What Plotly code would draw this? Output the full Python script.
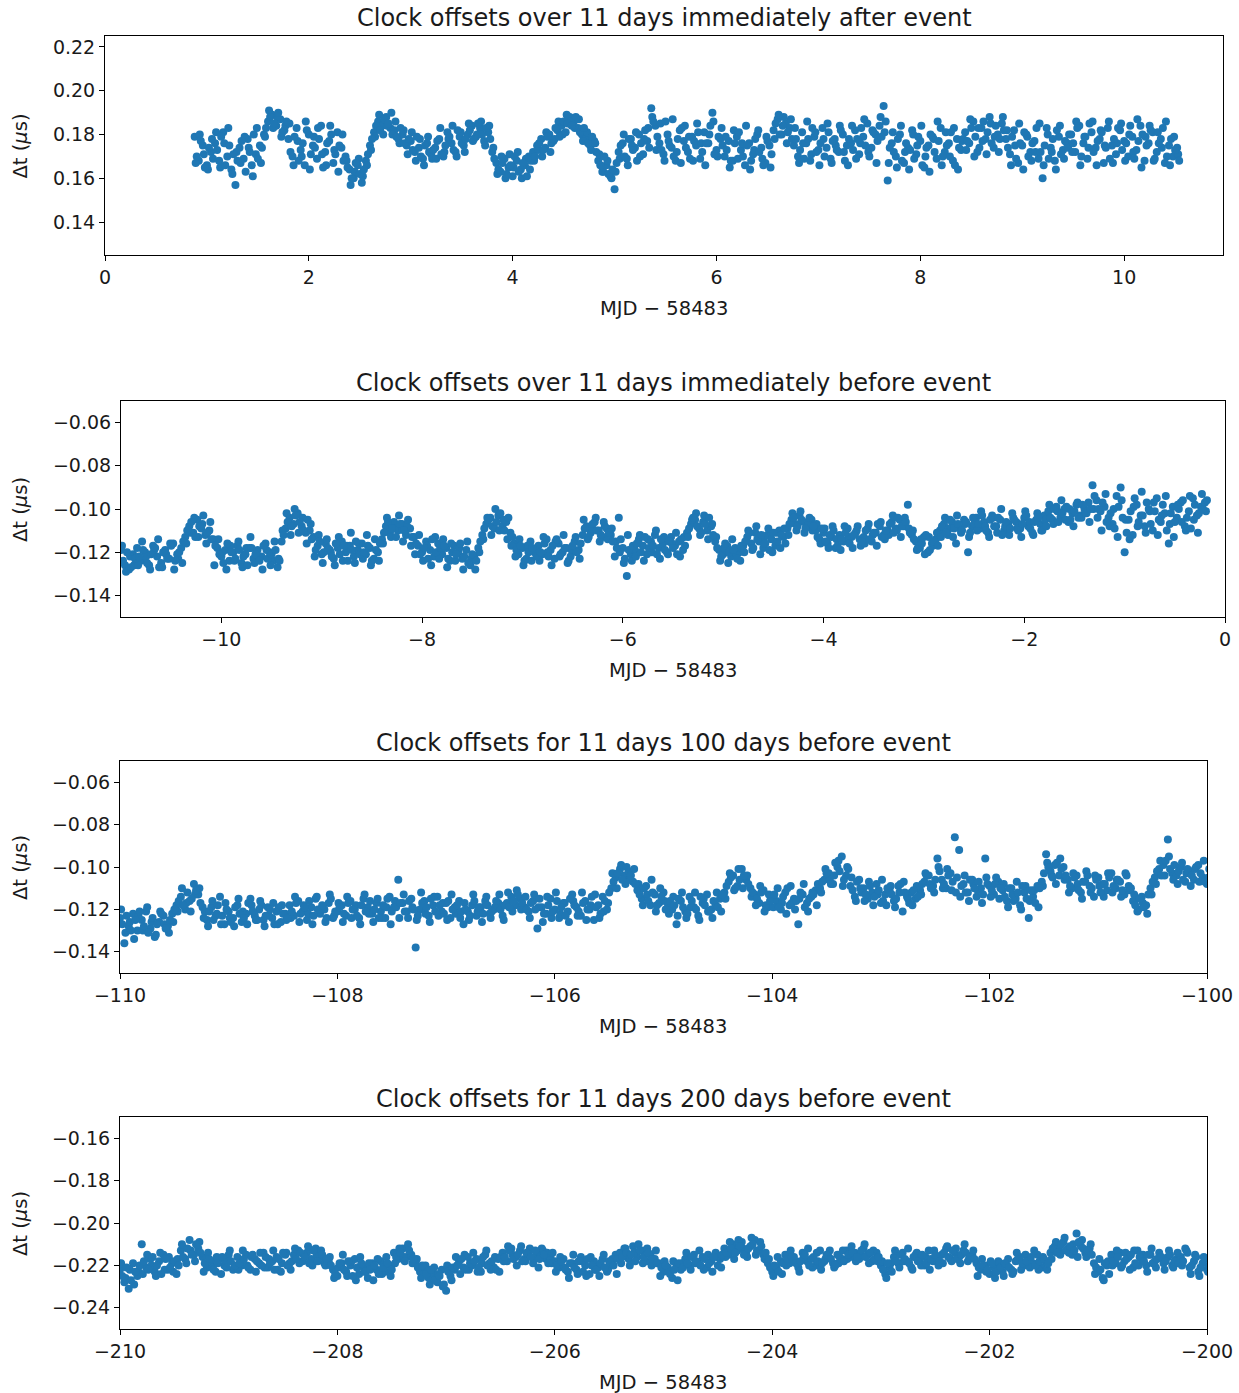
import plotly.graph_objects as go

# ---------------- data (Δt in ns; converted to μs when plotted) ----------------
# Each panel: three sets of readings on a sampling grid with step dt:
#   *_ns      at t0 + k*dt
#   *_ns_q    at t0 + dt/4 + k*dt
#   *_ns_mid  at t0 + dt/2 + k*dt

# Panel 1: 11 days immediately after event
after_t0, after_dt = 0.88, 0.04
after_ns = [
    179, 168, 175, 166, 172,
    176, 168, 181, 170, 164, 157, 174, 169, 178, 166, 171, 175,
    180, 186, 189, 184, 187, 182,
    178, 170, 183, 173, 166, 180, 175, 169, 184, 172, 177, 167, 181, 174,
    170, 164, 160, 166, 158,
    168, 175, 181, 186, 184, 188, 183,
    182, 178, 180, 175, 177, 172, 174, 169, 176, 171,
    174, 178, 170, 181, 176, 172, 179, 175,
    180, 184, 179, 183, 177, 181,
    172, 167, 163, 169, 165, 161, 168, 164, 166, 170,
    172, 175, 178, 174, 180, 177, 182, 184, 181, 188,
    186, 183, 180, 178, 175, 177,
    168, 163, 166, 161,
    155,
    172, 176, 169, 178, 174, 180, 171, 177,
    192,
    184, 176, 171, 180, 174, 168, 182, 177, 172, 179, 175, 169, 181, 176, 190, 173, 178,
    170, 177, 168, 179, 173, 166, 176, 171, 180, 174, 167, 175,
    182, 187, 180, 185, 183,
    175, 170, 181, 176, 168, 179, 173, 183, 174, 169, 178, 172, 180, 175,
    176, 182, 171, 179, 185, 174, 180,
    184, 193,
    159,
    176, 170, 180, 167, 174, 182, 171, 177, 165, 175, 179, 169, 183, 172, 176, 168, 178, 173,
    181, 176, 186, 172, 183, 178, 188, 174, 180, 185,
    178, 171, 182, 167, 175, 180, 172, 177, 169, 160, 183, 174, 168, 179, 173, 176,
    180, 172, 184, 176, 169, 181, 174, 178, 167, 183, 175, 171, 182, 177, 170, 179, 173,
    184, 168, 176, 181, 172, 178, 167, 175, 170, 174,
]
after_ns_q = [
    167, 180, 171, 164, 178,
    181, 165, 176, 183, 162, 172, 167, 179, 174, 161, 183, 167,
    179, 191, 183, 188, 179, 184,
    185, 166, 177, 170, 186, 164, 179, 183, 171, 166, 184, 173, 163, 180,
    168, 157, 163, 169, 161,
    166, 173, 179, 189, 180, 184, 190,
    186, 176, 182, 171, 181, 168, 178, 166, 179, 169,
    169, 183, 172, 178, 184, 170, 181, 172,
    185, 177, 180, 186, 175, 184,
    174, 162, 170, 160, 171, 165, 172, 160, 169, 164,
    168, 173, 170, 181, 172, 178, 186, 180, 189, 186,
    183, 187, 177, 181, 173, 176,
    171, 163, 168, 160,
    163,
    169, 180, 166, 175, 181, 170, 178, 183,
    188,
    173, 185, 168, 177, 187, 172, 167, 184, 179, 168, 185, 176, 166, 180, 186, 170, 183,
    179, 165, 182, 169, 176, 184, 164, 173, 182, 169, 179, 165,
    178, 189, 184, 176, 187,
    183, 167, 176, 186, 171, 181, 166, 178, 185, 167, 175, 184, 172, 166,
    184, 169, 176, 187, 172, 182, 167,
    188, 181,
    167,
    181, 165, 184, 172, 164, 180, 175, 184, 170, 163, 178, 186, 166, 181, 170, 183, 164, 177,
    173, 187, 170, 183, 177, 171, 185, 179, 172, 188,
    182, 166, 175, 185, 164, 179, 168, 172, 185, 166, 180, 172, 164, 184, 169, 174,
    172, 186, 166, 179, 174, 186, 166, 182, 175, 186, 167, 176, 185, 168, 180, 172, 187,
    165, 179, 184, 168, 181, 174, 186, 166, 179, 171,
]
after_ns_mid = [
    170, 177, 165, 174, 169,
    173, 179, 166, 175, 171, 168, 177, 163, 172, 180, 169, 174,
    183, 188, 185, 190, 181, 186,
    172, 179, 168, 176, 182, 171, 174, 178, 165, 176, 180, 171, 175, 168,
    165, 160, 167, 162, 164,
    171, 178, 184, 182, 187, 185, 180,
    179, 183, 176, 178, 173, 179, 170, 175, 172, 173,
    177, 171, 175, 179, 173, 182, 176, 178,
    182, 178, 185, 180, 183, 178,
    169, 164, 167, 162, 166, 170, 163, 167, 161, 168,
    170, 176, 173, 179, 176, 183, 179, 186, 185, 184,
    188, 181, 183, 176, 179, 172,
    166, 170, 162, 164,
    167,
    175, 170, 178, 173, 168, 176, 182, 174,
    186,
    179, 173, 186, 175, 170, 178, 183, 174, 169, 177, 181, 172, 176, 184, 171, 179, 175,
    173, 168, 176, 181, 170, 175, 168, 178, 172, 166, 177, 171,
    185, 180, 188, 181, 178,
    178, 173, 169, 178, 183, 172, 176, 170, 181, 177, 173, 182, 168, 178,
    173, 178, 183, 175, 170, 181, 177,
    179, 186,
    174,
    172, 178, 168, 176, 173, 169, 179, 166, 174, 180, 172, 177, 170, 175, 181, 166, 174, 178,
    177, 183, 179, 174, 186, 181, 176, 184, 178, 182,
    174, 179, 169, 176, 181, 170, 176, 183, 172, 175, 169, 178, 182, 171, 177, 180,
    176, 183, 170, 179, 185, 172, 177, 181, 174, 169, 178, 183, 173, 176, 184, 169, 177,
    180, 175, 182, 169, 176, 183, 170, 178, 173, 168,
]

# Panel 2: 11 days immediately before event
before_t0, before_dt = -11.0, 0.04
before_ns = [
    -119, -126, -128, -121,
    -118, -124, -120, -126, -117, -122, -125, -119, -123, -116, -121, -118,
    -113, -108, -111, -105, -109, -112, -110,
    -114, -118, -122, -119, -124, -120, -117, -125, -121, -118, -123, -119, -122, -116, -120, -124, -127,
    -115, -109, -104, -107, -102, -108, -111, -110,
    -113, -117, -121, -116, -119, -123, -118, -115, -120, -117, -122, -119, -116, -121, -118, -123, -120,
    -114, -108, -111, -106, -110, -107, -112, -109,
    -113, -117, -120, -115, -119, -122, -116, -121, -118, -124, -117, -120, -123, -119, -126, -122,
    -118, -112, -107, -104, -109, -103, -108, -106, -111,
    -116, -121, -118, -123, -115, -120,
    -117, -121, -114, -119, -123, -116, -120, -118, -122, -115, -119,
    -112, -108, -111, -106, -110, -113, -109, -112,
    -122, -104, -118, -131, -121,
    -119, -114, -117, -121, -115, -112, -118, -116, -120, -113, -117, -115, -119,
    -111, -107, -105, -109, -106, -110, -108,
    -115, -119, -121, -117, -122, -118, -120,
    -117, -113, -116, -111, -115, -118, -112, -114, -117, -110, -113,
    -109, -105, -107, -103, -106, -108, -105,
    -110, -114, -111, -116, -113, -118, -112, -115, -109, -113, -111, -114,
    -113, -109, -115, -111, -108, -112,
    -110, -106, -109, -105, -108, -98,
    -112, -115, -118, -113, -120, -116, -114,
    -110, -107, -112, -106, -116, -109, -105,
    -120, -108,
    -104, -109, -106, -111, -103, -108, -105, -110, -107, -102, -106, -109, -104, -108, -111, -105, -107, -103,
    -101, -105, -99, -104, -100, -106, -102, -98, -103, -100, -97,
    -89,
    -96, -101, -99, -104, -107, -94, -90, -120, -105, -112, -98, -103, -108, -100,
    -110, -95, -106, -102, -116, -99, -104, -97, -108, -101, -95, -103, -99, -97,
]
before_ns_q = [
    -117, -129, -122, -126,
    -126, -115, -122, -128, -119, -114, -127, -121, -116, -128, -123, -125,
    -116, -111, -104, -113, -107, -116, -106,
    -126, -114, -120, -128, -117, -124, -115, -127, -118, -113, -125, -122, -128, -119, -126, -115, -123,
    -110, -102, -112, -100, -111, -104, -116, -107,
    -122, -112, -125, -114, -120, -126, -113, -124, -117, -111, -125, -116, -123, -112, -126, -114, -124,
    -116, -104, -113, -109, -103, -115, -108, -117,
    -121, -112, -124, -117, -126, -113, -123, -114, -127, -116, -124, -118, -128, -115, -123, -128,
    -120, -114, -104, -112, -100, -110, -105, -114, -117,
    -122, -114, -126, -117, -124, -119,
    -124, -113, -120, -126, -115, -122, -112, -125, -119, -113, -123,
    -105, -114, -109, -104, -115, -106, -114, -109,
    -115, -120, -125, -112, -124,
    -122, -112, -124, -114, -120, -110, -123, -113, -121, -116, -111, -122, -113,
    -113, -105, -102, -112, -103, -114, -107,
    -113, -124, -118, -125, -114, -121, -124,
    -120, -110, -119, -108, -121, -113, -109, -120, -111, -118, -109,
    -112, -102, -110, -101, -111, -106, -110,
    -107, -116, -109, -118, -108, -114, -119, -108, -113, -118, -110, -117,
    -116, -107, -112, -117, -106, -114,
    -112, -103, -110, -113, -104, -109,
    -110, -119, -114, -121, -113, -117, -111,
    -113, -104, -109, -113, -103, -111, -107,
    -113, -104,
    -110, -101, -108, -113, -104, -111, -100, -108, -112, -104, -109, -113, -101, -106, -112, -102, -110, -105,
    -98, -107, -101, -96, -105, -100, -108, -97, -104, -101, -106,
    -100,
    -104, -110, -93, -108, -100, -113, -96, -105, -114, -99, -108, -92, -111, -101,
    -97, -112, -103, -94, -107, -113, -98, -106, -110, -94, -105, -111, -93, -101,
]
before_ns_mid = [
    -124, -120, -127, -123,
    -122, -119, -125, -121, -118, -127, -120, -123, -117, -124, -120, -115,
    -110, -106, -113, -108, -103, -111, -114,
    -117, -121, -125, -116, -120, -123, -119, -122, -126, -118, -121, -124, -117, -123, -121, -119, -124,
    -112, -106, -108, -103, -106, -110, -105, -114,
    -119, -115, -120, -118, -122, -116, -121, -117, -124, -119, -115, -121, -120, -117, -124, -119, -116,
    -111, -106, -109, -113, -107, -110, -105, -113,
    -116, -121, -118, -123, -114, -120, -118, -117, -123, -120, -121, -116, -122, -125, -121, -124,
    -115, -109, -105, -108, -106, -102, -110, -104, -113,
    -119, -117, -124, -120, -118, -122,
    -120, -116, -122, -117, -114, -121, -118, -124, -117, -120, -116,
    -109, -113, -107, -110, -112, -108, -111, -115,
    -118, -114, -123, -119, -117,
    -116, -120, -113, -118, -117, -121, -114, -119, -115, -118, -121, -114, -117,
    -109, -104, -108, -111, -107, -104, -112,
    -118, -122, -116, -120, -119, -123, -117,
    -115, -111, -118, -114, -112, -116, -119, -111, -115, -112, -116,
    -107, -104, -108, -105, -109, -104, -108,
    -113, -109, -115, -112, -110, -117, -114, -111, -116, -112, -108, -115,
    -110, -114, -111, -107, -113, -110,
    -107, -111, -104, -108, -106, -111,
    -114, -118, -116, -112, -119, -115, -117,
    -108, -111, -105, -109, -107, -110, -106,
    -111, -107,
    -107, -103, -110, -105, -108, -104, -112, -106, -109, -105, -110, -107, -103, -109, -106, -104, -110, -108,
    -104, -100, -106, -102, -99, -105, -101, -104, -98, -102, -100,
    -94,
    -100, -97, -106, -102, -109, -99, -104, -111, -101, -95, -106, -103, -97, -107,
    -101, -105, -98, -110, -102, -106, -100, -96, -104, -109, -98, -102, -100, -96,
]

# Panel 3: 11 days, 100 days before event
d100_t0, d100_dt = -110.0, 0.04
d100_ns = [
    -124, -136, -128, -122, -130, -125, -121, -129, -133, -126, -123, -128,
    -122, -118, -114, -120, -116, -108, -113, -119,
    -125, -119, -123, -114, -127, -121, -124, -118, -126, -122, -115, -123, -120, -125, -119, -124, -121, -126, -122,
    -118, -123, -116, -121, -125, -119, -115, -122, -120, -117, -124, -121, -118, -123, -116, -120, -124, -115,
    -119, -122, -117, -121, -124, -114, -119,
    -106,
    -117, -121, -115, -138, -120, -116, -123, -118, -114, -121, -117, -124, -119, -116,
    -127, -121, -118, -123, -119, -116, -122, -120, -117, -123,
    -117, -114, -118, -115, -119,
    -121, -116, -129, -119, -122, -115, -120, -124, -117, -121, -113, -119, -123, -116, -120, -125, -118, -114, -120,
    -110, -105, -101, -104, -102, -107,
    -111, -115, -109, -118, -113, -117, -112, -119,
    -120, -127, -116, -121, -114, -119, -123, -117, -113, -120, -118, -115,
    -112, -107, -104, -109, -101, -106, -110,
    -113, -117, -111, -119, -114, -116, -120, -112, -118, -115, -127, -113, -117, -114, -111,
    -110, -106, -103, -108, -100, -95, -104,
    -109, -114, -106,
    -110, -115, -112, -108, -117, -113, -111, -116, -109, -121, -114, -112, -115,
    -111, -107, -104, -109, -96, -106, -110, -103,
    -86,
    -92, -108, -112, -106, -114, -110, -96, -109, -113, -107,
    -111, -116, -110, -115, -118, -112, -124, -114, -109,
    -107, -94, -102, -99, -104, -100,
    -106, -110, -104, -112, -107, -109, -114, -105, -108, -111, -103, -110, -107, -113, -109,
    -116, -121, -114, -118,
    -110, -105, -101, -99, -87, -103,
    -104, -100, -107, -102, -106, -99, -105, -108,
]
d100_ns_q = [
    -120, -131, -126, -134, -123, -130, -119, -126, -132, -121, -127, -131,
    -126, -121, -110, -117, -121, -113, -110, -124,
    -128, -116, -122, -127, -117, -124, -128, -115, -121, -127, -118, -125, -116, -128, -123, -117, -127, -118, -125,
    -124, -114, -126, -118, -122, -127, -114, -120, -126, -113, -123, -117, -126, -114, -124, -118, -127, -113,
    -122, -126, -115, -124, -119, -127, -116,
    -124,
    -113, -124, -119, -125, -112, -122, -126, -114, -123, -117, -125, -113, -122, -124,
    -117, -125, -113, -121, -126, -114, -124, -119, -113, -125,
    -112, -121, -111, -120, -114,
    -124, -113, -119, -126, -114, -124, -112, -122, -117, -126, -116, -123, -112, -125, -118, -113, -124, -121, -117,
    -103, -110, -99, -108, -106, -101,
    -108, -118, -113, -106, -121, -110, -116, -122,
    -114, -123, -112, -124, -119, -112, -125, -115, -121, -124, -112, -121,
    -115, -103, -111, -101, -110, -104, -114,
    -118, -109, -121, -113, -119, -110, -117, -122, -109, -120, -115, -108, -121, -112, -118,
    -112, -101, -106, -104, -97, -109, -100,
    -105, -116, -110,
    -116, -107, -118, -113, -106, -118, -109, -119, -112, -107, -115, -118, -109,
    -113, -103, -108, -112, -100, -110, -101, -111,
    -112,
    -114, -104, -116, -108, -111, -117, -105, -114, -108, -115,
    -108, -119, -113, -107, -120, -109, -116, -111, -119,
    -109, -98, -104, -108, -96, -106,
    -112, -103, -108, -115, -102, -112, -104, -109, -114, -103, -112, -106, -114, -103, -111,
    -113, -120, -117, -122,
    -113, -108, -97, -104, -95, -106,
    -108, -98, -103, -109, -101, -107, -97, -105,
]
d100_ns_mid = [
    -127, -123, -130, -125, -121, -128, -131, -124, -127, -122, -129, -125,
    -120, -116, -118, -112, -115, -111, -117, -121,
    -121, -125, -118, -123, -120, -126, -119, -122, -124, -117, -121, -125, -118, -123, -120, -127, -119, -122, -124,
    -121, -117, -122, -119, -116, -123, -120, -118, -124, -115, -121, -119, -122, -117, -120, -123, -118, -121, -116,
    -120, -124, -118, -115, -121, -119,
    -117,
    -121, -116, -120, -123, -117, -119, -115, -121, -118, -122, -116, -120, -118, -121,
    -120, -123, -116, -119, -122, -118, -121, -116, -120, -118,
    -119, -116, -113, -117, -120,
    -117, -120, -115, -122, -118, -121, -116, -119, -123, -115, -118, -121, -117, -120, -114, -119, -122, -116, -112,
    -107, -103, -106, -100, -104, -108,
    -113, -110, -116, -112, -118, -114, -120, -116,
    -118, -115, -119, -122, -116, -120, -114, -118, -121, -116, -119, -113,
    -109, -105, -110, -106, -104, -108, -112,
    -115, -112, -118, -116, -113, -119, -114, -110, -117, -116, -112, -119, -115, -113, -108,
    -107, -103, -108, -98, -102, -106, -101,
    -111, -107, -112,
    -113, -109, -114, -111, -116, -110, -113, -115, -108, -112, -117, -111, -114,
    -108, -104, -110, -106, -102, -108, -104, -107,
    -105,
    -109, -112, -106, -110, -107, -113, -108, -111, -105, -110,
    -114, -110, -116, -112, -109, -115, -111, -117, -110,
    -103, -100, -105, -98, -101, -104,
    -109, -105, -111, -107, -104, -110, -106, -112, -108, -105, -109, -106, -111, -104, -110,
    -118, -115, -119, -113,
    -107, -102, -104, -97, -101, -99,
    -102, -106, -101, -104, -100, -103, -107, -101,
]

# Panel 4: 11 days, 200 days before event
d200_t0, d200_dt = -210.0, 0.04
d200_ns = [
    -222, -228, -231, -219, -225,
    -210, -221, -217, -223, -218, -215, -222, -219, -224,
    -213, -217, -208, -215, -212,
    -216, -221, -218, -223, -217, -220, -215, -222,
    -216, -220, -215, -222, -217, -219, -214, -221, -218, -216, -223, -215, -219,
    -215, -213, -218, -214, -217, -212, -216, -219,
    -218, -222, -225, -219, -223, -220, -217, -224, -221, -226, -219, -222, -218, -223, -220,
    -214, -217, -212, -216, -215,
    -219, -223, -221, -226, -224, -228, -222, -232, -225,
    -222, -218, -221, -216, -220, -217, -223, -215, -219, -221, -217,
    -214, -218, -212, -216, -213, -217, -215, -219, -214, -212, -217, -216,
    -218, -221, -217, -223, -219, -222, -216, -220, -224, -218, -221, -217, -223, -219, -215,
    -214, -212, -217, -211, -216, -213, -218, -215, -217,
    -219, -223, -221, -226, -220, -222,
    -217, -220, -215, -219, -216, -221, -218, -214, -217,
    -212, -215, -210, -213, -209, -214, -211, -208, -213, -215,
    -219, -223, -221, -218,
    -215, -219, -216, -221, -214, -218, -217, -220, -213, -218, -216, -219, -215, -217,
    -213, -216, -214, -217, -212, -215, -218, -214,
    -220, -224, -221,
    -216, -219, -214, -218, -221, -215, -217, -220, -213, -218, -216,
    -215, -212, -217, -214, -216, -213, -218, -215,
    -219, -222, -220, -224, -221, -218, -223, -220, -222,
    -218, -216, -220, -217, -219, -215, -221, -218,
    -214, -211, -213, -209, -212, -215, -205, -211, -214, -212,
    -219, -223, -226, -220,
    -215, -219, -214, -218, -216, -221, -213, -217, -220, -215, -218, -214, -219, -216, -220, -217,
    -216, -212, -221, -218, -223, -219, -222,
]
d200_ns_q = [
    -219, -226, -222, -229, -223,
    -224, -215, -220, -225, -214, -222, -216, -223, -217,
    -210, -219, -213, -218, -209,
    -223, -214, -221, -216, -224, -218, -213, -221,
    -222, -213, -220, -216, -223, -214, -221, -217, -213, -222, -219, -214, -222,
    -212, -219, -215, -211, -220, -215, -213, -220,
    -216, -226, -221, -215, -225, -218, -227, -216, -223, -219, -227, -217, -224, -216, -225,
    -219, -212, -216, -210, -219,
    -217, -226, -220, -229, -221, -224, -230, -220, -227,
    -216, -224, -215, -222, -214, -223, -219, -213, -222, -216, -223,
    -218, -211, -215, -220, -211, -218, -212, -217, -221, -213, -214, -219,
    -223, -216, -221, -226, -215, -224, -218, -225, -216, -222, -225, -215, -222, -217, -224,
    -219, -212, -220, -214, -210, -219, -212, -220, -213,
    -225, -218, -223, -218, -227, -219,
    -214, -222, -219, -213, -222, -215, -223, -216, -221,
    -216, -209, -217, -208, -212, -216, -207, -215, -209, -217,
    -217, -225, -216, -224,
    -220, -213, -218, -223, -216, -212, -221, -214, -222, -217, -213, -221, -219, -213,
    -217, -211, -218, -215, -210, -219, -213, -218,
    -218, -226, -219,
    -213, -221, -218, -212, -222, -214, -220, -216, -222, -213, -220,
    -219, -211, -218, -212, -219, -210, -217, -213,
    -225, -217, -223, -218, -226, -219, -225, -217, -224,
    -214, -222, -215, -221, -213, -222, -216, -222,
    -217, -209, -215, -207, -214, -210, -216, -208, -216, -210,
    -224, -217, -227, -218,
    -220, -213, -221, -214, -222, -213, -220, -215, -223, -212, -221, -216, -222, -213, -221, -214,
    -220, -213, -224, -215, -225, -216, -223,
]
d200_ns_mid = [
    -225, -221, -227, -223, -220,
    -218, -222, -216, -220, -224, -217, -221, -218, -220,
    -216, -212, -215, -210, -214,
    -219, -217, -222, -219, -216, -221, -218, -220,
    -219, -217, -221, -215, -218, -220, -216, -219, -222, -217, -214, -220, -218,
    -217, -214, -216, -219, -213, -218, -215, -217,
    -220, -224, -219, -222, -218, -225, -221, -219, -223, -222, -220, -224, -221, -219, -222,
    -216, -214, -218, -213, -217,
    -221, -220, -224, -222, -227, -225, -229, -223, -221,
    -220, -217, -222, -219, -218, -221, -216, -220, -218, -222, -216,
    -216, -213, -217, -215, -218, -214, -216, -213, -217, -215, -219, -214,
    -220, -218, -222, -219, -221, -218, -223, -217, -220, -222, -219, -221, -218, -220, -217,
    -216, -214, -215, -218, -213, -216, -214, -217, -219,
    -221, -220, -224, -222, -219, -221,
    -219, -216, -218, -220, -217, -219, -216, -220, -215,
    -214, -212, -214, -211, -215, -212, -210, -213, -211, -214,
    -221, -220, -223, -219,
    -217, -216, -219, -218, -215, -220, -216, -218, -219, -215, -217, -220, -216, -218,
    -215, -214, -216, -213, -216, -214, -217, -216,
    -222, -219, -223,
    -218, -215, -217, -219, -216, -218, -215, -219, -217, -215, -218,
    -214, -216, -213, -217, -215, -214, -216, -217,
    -221, -220, -222, -219, -223, -221, -219, -221, -223,
    -217, -219, -218, -216, -220, -218, -217, -219,
    -212, -214, -210, -213, -211, -213, -209, -212, -213, -215,
    -221, -222, -219, -224,
    -218, -216, -220, -217, -215, -219, -216, -218, -215, -219, -217, -216, -218, -215, -218, -219,
    -218, -214, -220, -216, -221, -217, -220,
]

titles = [
    "Clock offsets over 11 days immediately after event",
    "Clock offsets over 11 days immediately before event",
    "Clock offsets for 11 days 100 days before event",
    "Clock offsets for 11 days 200 days before event",
]
x_label = "MJD \u2212 58483"
y_label = "\u0394t (<i>\u03bc</i>s)"

x_ranges = [[0, 10.97], [-11.0, 0.0], [-110.0, -100.0], [-210.0, -200.0]]
y_ranges = [[0.125, 0.225], [-0.150, -0.050], [-0.150, -0.050], [-0.250, -0.150]]
x_ticks = [[0, 2, 4, 6, 8, 10], [-10, -8, -6, -4, -2, 0],
           [-110, -108, -106, -104, -102, -100], [-210, -208, -206, -204, -202, -200]]
y_ticks = [[0.14, 0.16, 0.18, 0.20, 0.22], [-0.14, -0.12, -0.10, -0.08, -0.06],
           [-0.14, -0.12, -0.10, -0.08, -0.06], [-0.24, -0.22, -0.20, -0.18, -0.16]]

series = [
    (after_t0, after_dt, [after_ns, after_ns_q, after_ns_mid]),
    (before_t0, before_dt, [before_ns, before_ns_q, before_ns_mid]),
    (d100_t0, d100_dt, [d100_ns, d100_ns_q, d100_ns_mid]),
    (d200_t0, d200_dt, [d200_ns, d200_ns_q, d200_ns_mid]),
]
set_offsets = [0.0, 0.25, 0.5]  # fraction of dt at which each reading set sits

# ---------------- layout geometry (pixels in a 1239 x 1393 page) ----------------
W, H = 1239, 1393
boxes = [  # (left, right, top, bottom) in px
    (105, 1223, 36, 255),
    (121, 1225, 401, 617),
    (120, 1207, 761, 973),
    (120, 1207, 1117, 1329),
]

def fmt_tick(v, dec=2):
    s = f"{abs(v):.{dec}f}" if dec else f"{abs(v):g}"
    return ("\u2212" if v < 0 else "") + s

FONT = "DejaVu Sans"
BLUE = "#1f77b4"
TEXT = "#1a1a1a"
TICK_SIZE, LABEL_SIZE, TITLE_SIZE = 19, 19.5, 24

fig = go.Figure()
annotations = []
layout = dict(
    width=W, height=H, margin=dict(l=0, r=0, t=0, b=0, autoexpand=False),
    paper_bgcolor="white", plot_bgcolor="white", showlegend=False,
    font=dict(family=FONT, size=TICK_SIZE, color=TEXT),
)

for i, ((t0, dt, sets), (l, r, t, b)) in enumerate(zip(series, boxes)):
    n = i + 1
    xa = "x" if n == 1 else f"x{n}"
    ya = "y" if n == 1 else f"y{n}"
    xs, ys = [], []
    for off, vals in zip(set_offsets, sets):
        xs += [t0 + dt * (k + off) for k in range(len(vals))]
        ys += [v / 1000.0 for v in vals]
    fig.add_trace(go.Scatter(
        x=xs, y=ys, mode="markers", xaxis=xa, yaxis=ya,
        marker=dict(color=BLUE, size=8, line=dict(width=0)),
        hoverinfo="skip", cliponaxis=True,
    ))
    xdom = [l / W, r / W]
    ydom = [1 - b / H, 1 - t / H]
    common = dict(showgrid=False, zeroline=False, showline=True, linecolor="black",
                  linewidth=1, mirror=True, ticks="outside", ticklen=5, tickwidth=1,
                  tickcolor="black", automargin=False,
                  tickfont=dict(family=FONT, size=TICK_SIZE, color=TEXT))
    layout["xaxis" if n == 1 else f"xaxis{n}"] = dict(
        domain=xdom, range=x_ranges[i], anchor=ya,
        tickvals=x_ticks[i], ticktext=[fmt_tick(v, 0) for v in x_ticks[i]], **common)
    layout["yaxis" if n == 1 else f"yaxis{n}"] = dict(
        domain=ydom, range=y_ranges[i], anchor=xa,
        tickvals=y_ticks[i], ticktext=[fmt_tick(v, 2) for v in y_ticks[i]], **common)
    cx = (xdom[0] + xdom[1]) / 2
    annotations.append(dict(text=titles[i], x=cx, y=ydom[1], xref="paper", yref="paper",
                            xanchor="center", yanchor="middle", yshift=18, showarrow=False,
                            font=dict(family=FONT, size=TITLE_SIZE, color=TEXT)))
    annotations.append(dict(text=x_label, x=cx, y=ydom[0], xref="paper", yref="paper",
                            xanchor="center", yanchor="middle", yshift=-53, showarrow=False,
                            font=dict(family=FONT, size=LABEL_SIZE, color=TEXT)))
    annotations.append(dict(text=y_label, x=20 / W, y=(ydom[0] + ydom[1]) / 2,
                            xref="paper", yref="paper", xanchor="center", yanchor="middle",
                            textangle=-90, showarrow=False,
                            font=dict(family=FONT, size=LABEL_SIZE, color=TEXT)))

layout["annotations"] = annotations
fig.update_layout(**layout)
fig.write_html("out.html", config={"displayModeBar": False},
               post_script="document.body.style.margin='0px';document.body.style.overflow='hidden';")
